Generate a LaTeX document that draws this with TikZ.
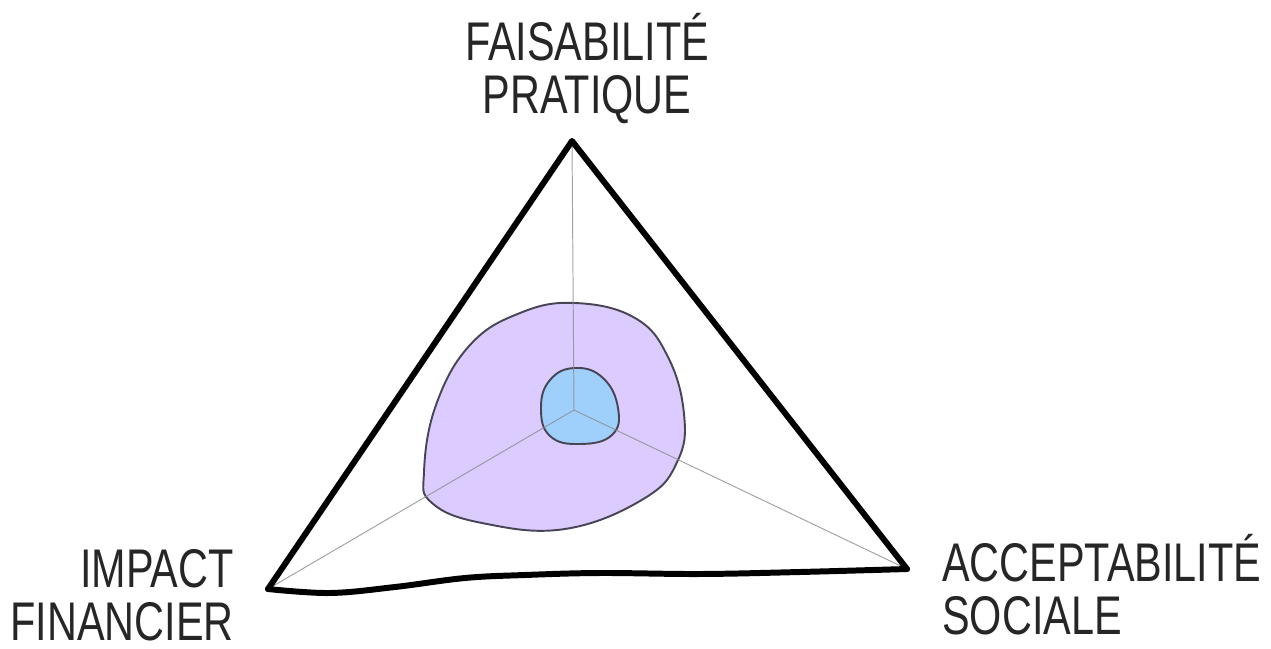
\documentclass[tikz,border=0pt]{standalone}
\usepackage{fontspec}
\setmainfont{Liberation Sans}[FakeStretch=0.76]
\definecolor{blobpurple}{RGB}{220,203,254}
\definecolor{blobblue}{RGB}{158,208,251}
\definecolor{blobline}{RGB}{72,70,84}
\definecolor{axisgray}{RGB}{140,140,140}
\tikzset{
  frame/.style={line width=3.4pt, line join=round, line cap=round, black},
  axis/.style={line width=0.55pt, axisgray, opacity=0.8},
  blob/.style={line width=1.1pt, draw=blobline},
  lab/.style={font=\fontsize{31}{30}\selectfont, text=black!85, inner sep=0pt}
}
\begin{document}
\begin{tikzpicture}[x=0.02cm,y=-0.02cm]
\useasboundingbox (0,0) rectangle (1271,649);
% vertices
\coordinate (T) at (572,141);
\coordinate (L) at (268,589);
\coordinate (R) at (907,569);
\coordinate (C) at (574,410);
% blobs
\filldraw[blob, fill=blobpurple] plot[smooth cycle, tension=0.7] coordinates {
 (575,303) (635,318) (668,357) (684,414) (678,460) (645,498) (565,529)
 (482,523) (432,503) (424,472) (436,405) (470,345) (520,313)};
\filldraw[blob, fill=blobblue] plot[smooth cycle, tension=0.75] coordinates {
 (575,368) (603,378) (618,408) (612,435) (580,444) (550,436) (541,408) (550,380)};
% axes
\draw[axis] (C) -- (T);
\draw[axis] (C) -- (L);
\draw[axis] (C) -- (R);
% triangle
\draw[frame] (L) -- (T) -- (R);
\draw[frame] plot[smooth, tension=0.6] coordinates {
 (907,569) (800,572) (700,574) (600,573) (525,575) (465,578) (395,587) (330,593) (268,589)};
% labels
\node[lab, align=center, anchor=base] (lt) at (587,113) {FAISABILITÉ\\PRATIQUE};
\node[lab, align=right, anchor=base east] (ll) at (234,640) {IMPACT\\FINANCIER};
\node[lab, align=left, anchor=base west] (lr) at (942,634) {ACCEPTABILITÉ\\SOCIALE};
\end{tikzpicture}
\end{document}
